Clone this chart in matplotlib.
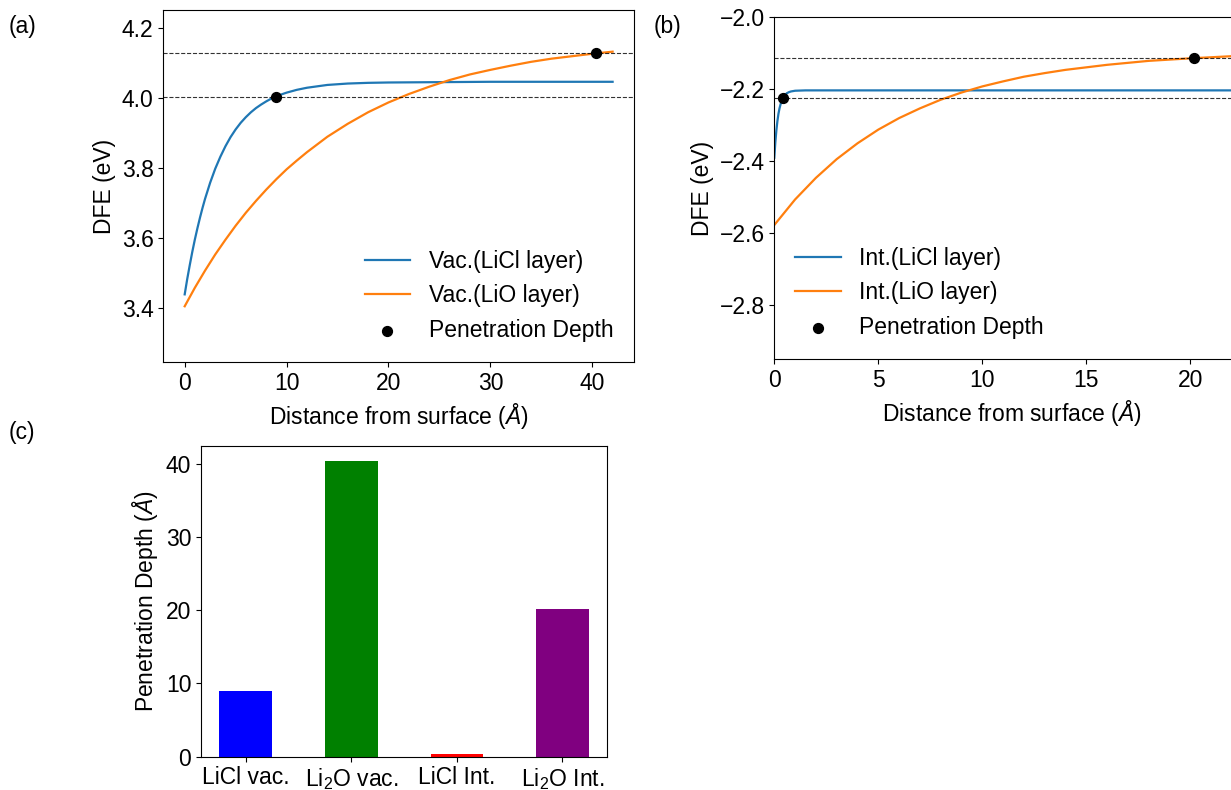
import matplotlib
matplotlib.use("Agg")
import matplotlib.pyplot as plt

plt.rcParams['font.family'] = ['Liberation Sans', 'DejaVu Sans']
plt.rcParams['mathtext.fontset'] = 'custom'
plt.rcParams['mathtext.rm'] = 'Liberation Sans'
plt.rcParams['mathtext.it'] = 'Liberation Sans:italic'
plt.rcParams['mathtext.bf'] = 'Liberation Sans:bold'

FS = 16.5

# ---------------- data: panel (a) vacuum ----------------
vac_licl_x = [0, 0.25, 0.5, 0.75, 1, 1.25, 1.5, 1.75, 2, 2.5, 3, 3.5, 4, 4.5, 5,
              5.5, 6, 6.5, 7, 7.5, 8, 8.5, 9, 9.5, 10, 11, 12, 13, 14, 16, 18,
              20, 25, 30, 35, 42]
vac_licl_y = [3.440, 3.484, 3.524, 3.562, 3.597, 3.629, 3.659, 3.687, 3.713, 3.759,
              3.799, 3.833, 3.863, 3.889, 3.911, 3.930, 3.946, 3.960, 3.972, 3.982,
              3.991, 3.999, 4.004, 4.011, 4.016, 4.024, 4.030, 4.034, 4.038, 4.042,
              4.044, 4.045, 4.046, 4.047, 4.047, 4.047]
vac_lio_x = [0, 1, 2, 3, 4, 5, 6, 7, 8, 9, 10, 11, 12, 14, 16, 18, 20, 22, 24, 26,
             28, 30, 32, 34, 36, 38, 40, 42]
vac_lio_y = [3.406, 3.459, 3.508, 3.554, 3.596, 3.636, 3.673, 3.707, 3.739, 3.769,
             3.797, 3.822, 3.846, 3.890, 3.927, 3.960, 3.988, 4.012, 4.033, 4.052,
             4.068, 4.081, 4.093, 4.104, 4.113, 4.120, 4.127, 4.133]
vac_pen_x = [9.0, 40.4]
vac_pen_y = [4.003, 4.128]

# ---------------- data: panel (b) interface ----------------
int_licl_x = [0, 0.05, 0.1, 0.15, 0.2, 0.25, 0.3, 0.35, 0.4, 0.5, 0.6, 0.7, 0.8,
              1.0, 1.5, 2, 5, 10, 15, 20, 25]
int_licl_y = [-2.390, -2.347, -2.314, -2.288, -2.268, -2.253, -2.242, -2.233,
              -2.226, -2.217, -2.211, -2.208, -2.206, -2.204, -2.203, -2.203,
              -2.203, -2.203, -2.203, -2.203, -2.203]
int_lio_x = [0, 1, 2, 3, 4, 5, 6, 7, 8, 9, 10, 11, 12, 13, 14, 16, 18, 20, 22, 24]
int_lio_y = [-2.577, -2.506, -2.446, -2.394, -2.350, -2.312, -2.280, -2.253,
             -2.229, -2.209, -2.192, -2.178, -2.165, -2.155, -2.146, -2.132,
             -2.121, -2.114, -2.108, -2.104]
int_pen_x = [0.41, 20.2]
int_pen_y = [-2.225, -2.113]

# ---------------- data: panel (c) bars ----------------
bar_labels = ['LiCl vac.', 'Li$_2$O vac.', 'LiCl Int.', 'Li$_2$O Int.']
bar_values = [9.0, 40.4, 0.41, 20.2]
bar_colors = ['blue', 'green', 'red', 'purple']

W, H = 1231, 790
fig = plt.figure(figsize=(W / 100, H / 100), dpi=100)


def rect(l, r, t, b):
    return [l / W, 1 - b / H, (r - l) / W, (b - t) / H]


blue = '#1f77b4'
orange = '#ff7f0e'

# ---- (a)
axa = fig.add_axes(rect(163.3, 634, 10, 362.3))
axa.plot(vac_licl_x, vac_licl_y, color=blue, lw=1.6, label='Vac.(LiCl layer)')
axa.plot(vac_lio_x, vac_lio_y, color=orange, lw=1.6, label='Vac.(LiO layer)')
axa.scatter(vac_pen_x, vac_pen_y, color='black', s=50, zorder=3, label='Penetration Depth')
for yv in vac_pen_y:
    axa.axhline(yv, color='black', ls='--', lw=0.8, alpha=0.8)
axa.set_xlim(-2.1, 44.1)
axa.set_ylim(3.246, 4.252)
axa.set_yticks([3.4, 3.6, 3.8, 4.0, 4.2])
axa.set_xticks([0, 10, 20, 30, 40])
axa.set_xlabel('Distance from surface ($Å$)', fontsize=FS)
axa.set_ylabel('DFE (eV)', fontsize=FS)
axa.tick_params(labelsize=FS)
axa.legend(loc='lower right', frameon=False, fontsize=FS)

# ---- (b)
axb = fig.add_axes(rect(774.3, 1250, 17.3, 359.3))
axb.plot(int_licl_x, int_licl_y, color=blue, lw=1.6, label='Int.(LiCl layer)')
axb.plot(int_lio_x, int_lio_y, color=orange, lw=1.6, label='Int.(LiO layer)')
axb.scatter(int_pen_x, int_pen_y, color='black', s=50, zorder=3, label='Penetration Depth')
for yv in int_pen_y:
    axb.axhline(yv, color='black', ls='--', lw=0.8, alpha=0.8)
axb.set_xlim(0, 22.87)
axb.set_ylim(-2.95, -2.0)
axb.set_yticks([-2.8, -2.6, -2.4, -2.2, -2.0])
axb.set_xticks([0, 5, 10, 15, 20])
axb.set_xlabel('Distance from surface ($Å$)', fontsize=FS)
axb.set_ylabel('DFE (eV)', fontsize=FS)
axb.tick_params(labelsize=FS)
axb.legend(loc='lower left', frameon=False, fontsize=FS)

# ---- (c)
axc = fig.add_axes(rect(201, 607.3, 446, 756.7))
axc.bar(bar_labels, bar_values, color=bar_colors, width=0.5)
axc.set_ylabel('Penetration Depth ($Å$)', fontsize=FS)
axc.set_yticks([0, 10, 20, 30, 40])
axc.tick_params(labelsize=FS)

fig.text(9 / W, 1 - 26 / H, '(a)', fontsize=FS, ha='left', va='center')
fig.text(654 / W, 1 - 27 / H, '(b)', fontsize=FS, ha='left', va='center')
fig.text(9 / W, 1 - 432 / H, '(c)', fontsize=FS, ha='left', va='center')

fig.savefig('out.png', dpi=100)
